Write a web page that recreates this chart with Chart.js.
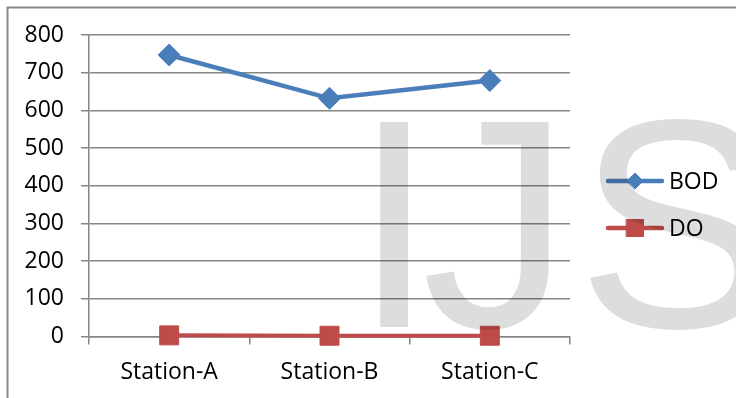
<!DOCTYPE html>
<html>
<head>
<meta charset="utf-8">
<script src="https://cdn.jsdelivr.net/npm/chart.js@4/dist/chart.umd.min.js"></script>
<style>
  html, body { margin: 0; padding: 0; background: #fff; }
  #wrap { width: 736px; height: 398px; }
</style>
</head>
<body>
<div id="wrap"><canvas id="c" width="736" height="398"></canvas></div>
<script>
// Sampling stations and measured values (mg/L)
const stations = ['Station-A', 'Station-B', 'Station-C'];
const bod = [747, 632, 679];
const doValues = [3, 2, 2];
const yMin = 0, yMax = 800, yStep = 100;

const AXIS_GREY = '#868686';
const BLUE = '#4a7ebb';
const RED = '#be4b48';
const FONT = '"Open Sans", "DejaVu Sans", sans-serif';
const FONT_SIZE = 23;

// White page with the outer frame (top and left edges)
const framePlugin = {
  id: 'frame',
  beforeDraw(chart) {
    const ctx = chart.ctx;
    ctx.save();
    ctx.fillStyle = '#fff';
    ctx.fillRect(0, 0, chart.width, chart.height);
    ctx.strokeStyle = '#8a8a8a';
    ctx.lineWidth = 2;
    ctx.beginPath();
    ctx.moveTo(chart.width, 7.5);
    ctx.lineTo(7.5, 7.5);
    ctx.lineTo(7.5, chart.height);
    ctx.stroke();
    ctx.restore();
  }
};

// Legend on the right: line segment with the series marker, then the name
const sideLegend = {
  id: 'sideLegend',
  afterDatasetsDraw(chart) {
    const ctx = chart.ctx;
    const rows = [181, 228];
    chart.data.datasets.forEach((ds, i) => {
      const y = rows[i];
      ctx.save();
      ctx.strokeStyle = ds.borderColor;
      ctx.lineWidth = 4.5;
      ctx.lineCap = 'round';
      ctx.beginPath();
      ctx.moveTo(608, y);
      ctx.lineTo(662, y);
      ctx.stroke();
      ctx.fillStyle = ds.pointBackgroundColor;
      ctx.strokeStyle = ds.pointBorderColor;
      ctx.lineWidth = 1;
      Chart.helpers.drawPoint(ctx, {
        pointStyle: ds.pointStyle,
        radius: ds.legendRadius,
        borderWidth: 1,
        rotation: 0
      }, 635, y);
      ctx.fillStyle = '#000';
      ctx.font = FONT_SIZE + 'px ' + FONT;
      ctx.textBaseline = 'middle';
      ctx.textAlign = 'left';
      ctx.fillText(ds.label, 669, y + 1);
      ctx.restore();
    });
  }
};

// Translucent "IJS" mark laid over the finished chart
const markPlugin = {
  id: 'mark',
  afterDraw(chart) {
    const ctx = chart.ctx;
    ctx.save();
    ctx.font = '298px "Liberation Sans", Arial, sans-serif';
    ctx.textBaseline = 'alphabetic';
    ctx.textAlign = 'left';
    ctx.fillStyle = 'rgba(0,0,0,0.135)';
    const baseline = 327;
    let m = ctx.measureText('I');
    ctx.fillText('I', 376 + m.actualBoundingBoxLeft, baseline);
    m = ctx.measureText('J');
    ctx.fillText('J', 552 - m.actualBoundingBoxRight, baseline);
    m = ctx.measureText('S');
    ctx.fillText('S', 586 + m.actualBoundingBoxLeft, baseline);
    ctx.restore();
  }
};

new Chart(document.getElementById('c'), {
  type: 'line',
  data: {
    labels: stations,
    datasets: [
      {
        label: 'BOD',
        data: bod,
        borderColor: BLUE,
        backgroundColor: BLUE,
        pointBackgroundColor: BLUE,
        pointBorderColor: BLUE,
        borderWidth: 4.5,
        pointStyle: 'rectRot',
        pointRadius: 11,
        pointBorderWidth: 1,
        legendRadius: 8,
        tension: 0,
        clip: false
      },
      {
        label: 'DO',
        data: doValues,
        borderColor: RED,
        backgroundColor: RED,
        pointBackgroundColor: RED,
        pointBorderColor: RED,
        borderWidth: 4,
        pointStyle: 'rect',
        pointRadius: 13.4,
        pointBorderWidth: 1,
        legendRadius: 12,
        tension: 0,
        clip: false
      }
    ]
  },
  options: {
    responsive: false,
    devicePixelRatio: 1,
    animation: false,
    layout: { padding: { top: 35, right: 166, left: 0, bottom: 0 } },
    plugins: {
      legend: { display: false },
      tooltip: { enabled: false }
    },
    scales: {
      x: {
        offset: true,
        grid: {
          offset: true,
          drawOnChartArea: false,
          drawTicks: true,
          tickLength: 8,
          color: AXIS_GREY,
          lineWidth: 1.5
        },
        border: { display: true, color: AXIS_GREY, width: 1.5 },
        ticks: {
          color: '#000',
          font: { family: FONT, size: FONT_SIZE },
          padding: 14,
          maxRotation: 0
        },
        afterFit(scale) { scale.height = 61.5; }
      },
      y: {
        min: yMin,
        max: yMax,
        ticks: {
          stepSize: yStep,
          color: '#000',
          font: { family: FONT, size: FONT_SIZE },
          padding: 17
        },
        grid: {
          drawTicks: true,
          tickLength: 8,
          color: AXIS_GREY,
          lineWidth: 1.5
        },
        border: { display: true, color: AXIS_GREY, width: 1.5 },
        afterFit(scale) { scale.width = 89; }
      }
    }
  },
  plugins: [framePlugin, sideLegend, markPlugin]
});
</script>
</body>
</html>
